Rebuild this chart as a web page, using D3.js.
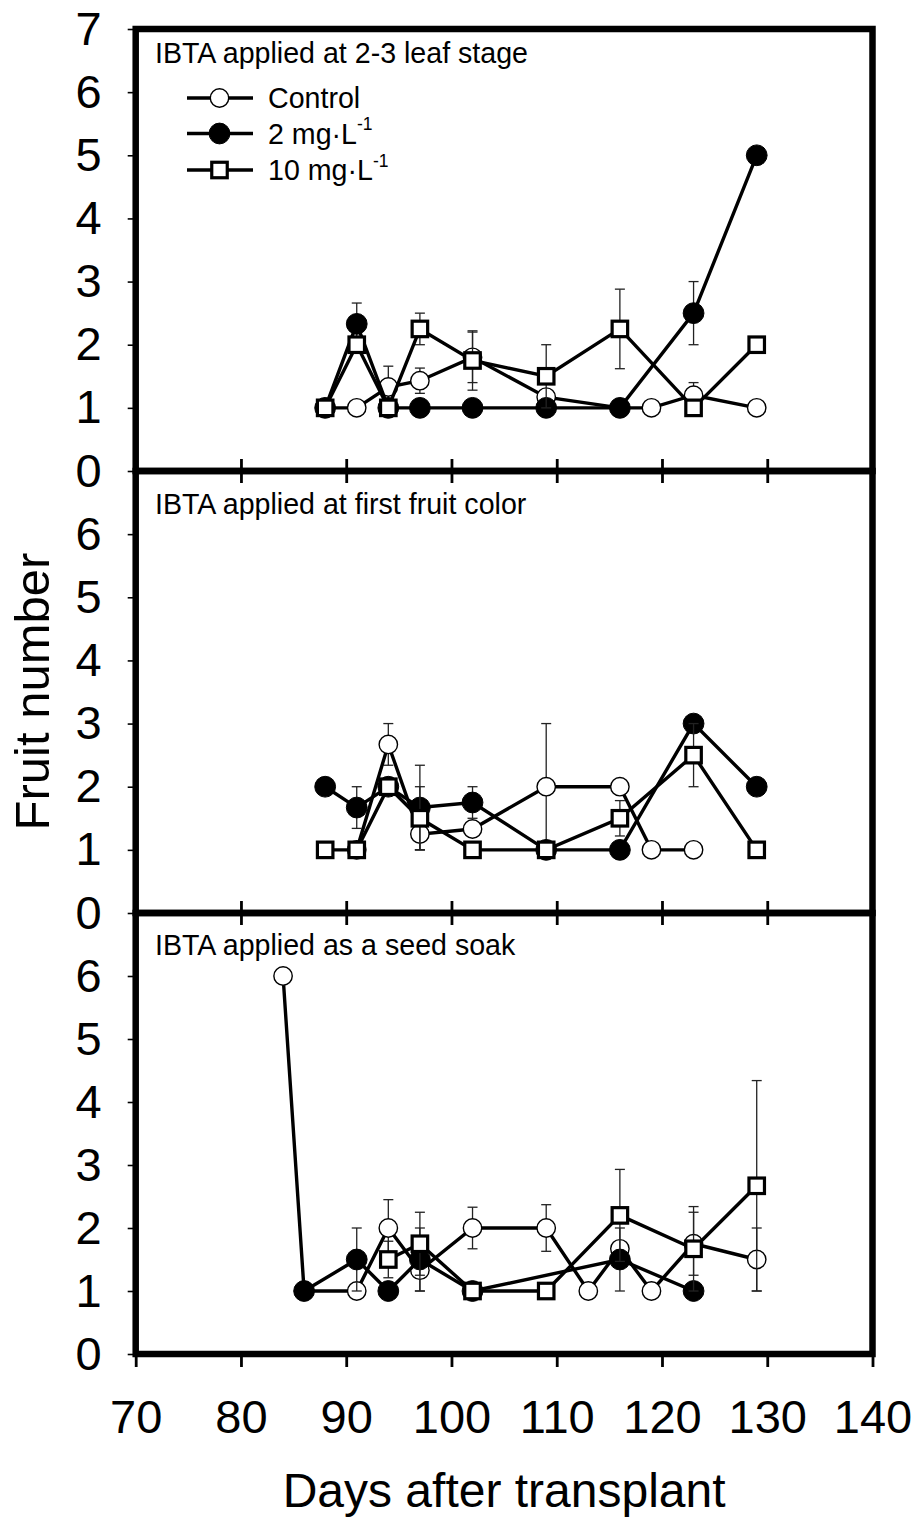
<!DOCTYPE html>
<html><head><meta charset="utf-8">
<script src="https://cdn.jsdelivr.net/npm/d3@7"></script>
<style>
html,body{margin:0;padding:0;background:#fff;}
svg{display:block;font-family:"Liberation Sans",Arial,sans-serif;}
</style></head>
<body>
<svg id="chart" width="917" height="1518"></svg>
<script>
// ---------- data ----------
const xTicks = [70, 80, 90, 100, 110, 120, 130, 140];
const yTicksTop = [0, 1, 2, 3, 4, 5, 6, 7];
const yTicksLower = [0, 1, 2, 3, 4, 5, 6];
const panelTitles = ["IBTA applied at 2-3 leaf stage", "IBTA applied at first fruit color", "IBTA applied as a seed soak"];
const legendLabels = ["Control", "2 mg\u00B7L", "10 mg\u00B7L"];
const legendSup = ["", "-1", "-1"];
const xLabel = "Days after transplant";
const yLabel = "Fruit number";

// Panel 1: 2-3 leaf stage
const p1ControlDays = [88, 91, 94, 97, 102, 109, 116, 119, 123, 129];
const p1ControlVals = [1, 1, 1.33, 1.43, 1.8, 1.17, 1, 1, 1.2, 1];
const p1ControlErr  = [0, 0, 0.33, 0.2, 0.4, 0, 0, 0, 0.2, 0];
const p1LowDays = [88, 91, 94, 97, 102, 109, 116, 123, 129];
const p1LowVals = [1, 2.33, 1, 1, 1, 1, 1, 2.5, 5];
const p1LowErr  = [0, 0.33, 0, 0, 0, 0, 0, 0.5, 0];
const p1HighDays = [88, 91, 94, 97, 102, 109, 116, 123, 129];
const p1HighVals = [1, 2, 1, 2.25, 1.75, 1.5, 2.25, 1, 2];
const p1HighErr  = [0, 0, 0, 0.25, 0.47, 0.5, 0.63, 0, 0];

// Panel 2: first fruit color
const p2ControlDays = [91, 94, 97, 102, 109, 116, 119, 123];
const p2ControlVals = [1, 2.67, 1.25, 1.33, 2, 2, 1, 1];
const p2ControlErr  = [0, 0.33, 0.25, 0, 1, 0, 0, 0];
const p2LowDays = [88, 91, 94, 97, 102, 109, 116, 123, 129];
const p2LowVals = [2, 1.67, 2, 1.67, 1.75, 1, 1, 3, 2];
const p2LowErr  = [0, 0.33, 0, 0.67, 0.25, 0, 0, 0, 0];
const p2HighDays = [88, 91, 94, 97, 102, 109, 116, 123, 129];
const p2HighVals = [1, 1, 2, 1.5, 1, 1, 1.5, 2.5, 1];
const p2HighErr  = [0, 0, 0, 0.5, 0, 0, 0.28, 0.5, 0];

// Panel 3: seed soak
const p3ControlDays = [84, 86, 91, 94, 97, 102, 109, 113, 116, 119, 123, 129];
const p3ControlVals = [6, 1, 1, 2, 1.33, 2, 2, 1, 1.67, 1, 1.75, 1.5];
const p3ControlErr  = [0, 0, 0, 0.45, 0.33, 0.33, 0.37, 0, 0, 0, 0.5, 0.5];
const p3LowDays = [86, 91, 94, 97, 102, 116, 123];
const p3LowVals = [1, 1.5, 1, 1.5, 1, 1.5, 1];
const p3LowErr  = [0, 0.5, 0, 0.5, 0, 0.5, 0];
const p3HighDays = [94, 97, 102, 109, 116, 123, 129];
const p3HighVals = [1.5, 1.75, 1, 1, 2.2, 1.67, 2.67];
const p3HighErr  = [0.29, 0.5, 0, 0, 0.73, 0.67, 1.67];

// ---------- build ----------
const zip = (d, v, e) => d.map((x, i) => ({x, y: v[i], e: e[i]}));
const panels = [
  {title: panelTitles[0], ticks: yTicksTop, titleY: 63,
   series: [zip(p1ControlDays, p1ControlVals, p1ControlErr), zip(p1LowDays, p1LowVals, p1LowErr), zip(p1HighDays, p1HighVals, p1HighErr)]},
  {title: panelTitles[1], ticks: yTicksLower, titleY: 514,
   series: [zip(p2ControlDays, p2ControlVals, p2ControlErr), zip(p2LowDays, p2LowVals, p2LowErr), zip(p2HighDays, p2HighVals, p2HighErr)]},
  {title: panelTitles[2], ticks: yTicksLower, titleY: 955,
   series: [zip(p3ControlDays, p3ControlVals, p3ControlErr), zip(p3LowDays, p3LowVals, p3LowErr), zip(p3HighDays, p3HighVals, p3HighErr)]}
];

const svg = d3.select("#chart");
const left = 135.7, right = 872.5;
const tops = [29, 471, 913], bottoms = [471, 913, 1354];
const x = d3.scaleLinear().domain([70, 140]).range([left, right]);

const styles = [
  {type: "circle", fill: "#fff", r: 9.2, sw: 1.4},
  {type: "circle", fill: "#000", r: 10.4, sw: 1},
  {type: "square", fill: "#fff", s: 15.5, sw: 3.2}
];

function drawMarker(g, st, cx, cy) {
  if (st.type === "circle") {
    g.append("circle").attr("cx", cx).attr("cy", cy).attr("r", st.r)
      .attr("fill", st.fill).attr("stroke", "#000").attr("stroke-width", st.sw);
  } else {
    g.append("rect").attr("x", cx - st.s / 2).attr("y", cy - st.s / 2)
      .attr("width", st.s).attr("height", st.s)
      .attr("fill", st.fill).attr("stroke", "#000").attr("stroke-width", st.sw);
  }
}

panels.forEach((p, pi) => {
  const y = d3.scaleLinear().domain([0, 7]).range([bottoms[pi], tops[pi]]);
  const g = svg.append("g");

  // y axis
  const ya = g.append("g").attr("transform", `translate(${left},0)`)
    .call(d3.axisLeft(y).tickValues(p.ticks).tickSize(8).tickPadding(26).tickFormat(d3.format("d")));
  ya.select(".domain").remove();
  ya.selectAll("line").attr("stroke", "#000").attr("stroke-width", 1.6);
  ya.selectAll("text").attr("font-size", 47).attr("fill", "#000")
    .attr("font-family", "'Liberation Sans', Arial, sans-serif");

  // x axis
  const last = pi === panels.length - 1;
  const xa = g.append("g").attr("transform", `translate(0,${bottoms[pi]})`)
    .call(d3.axisBottom(x).tickValues(xTicks).tickSize(13).tickPadding(33)
      .tickFormat(last ? d3.format("d") : () => ""));
  xa.select(".domain").remove();
  xa.selectAll("line").attr("stroke", "#000").attr("stroke-width", 2.8);
  if (!last) xa.selectAll("line").attr("y1", -12).attr("y2", 12);
  xa.selectAll("text").attr("font-size", 47).attr("fill", "#000")
    .attr("font-family", "'Liberation Sans', Arial, sans-serif");

  // frame
  g.append("rect").attr("x", left).attr("y", tops[pi])
    .attr("width", right - left).attr("height", bottoms[pi] - tops[pi])
    .attr("fill", "none").attr("stroke", "#000").attr("stroke-width", 6.5);

  // title
  g.append("text").attr("x", 155).attr("y", p.titleY).attr("font-size", 28.6)
    .attr("fill", "#000").text(p.title);

  const line = d3.line().x(d => x(d.x)).y(d => y(d.y));
  p.series.forEach((s, si) => {
    const st = styles[si];
    const sg = g.append("g");
    // error bars
    s.filter(d => d.e > 0).forEach(d => {
      const cx = x(d.x), y1 = y(d.y + d.e), y2 = y(d.y - d.e);
      sg.append("line").attr("x1", cx).attr("x2", cx).attr("y1", y1).attr("y2", y2)
        .attr("stroke", "#222").attr("stroke-width", 1.3);
      [y1, y2].forEach(yy => sg.append("line").attr("x1", cx - 5).attr("x2", cx + 5)
        .attr("y1", yy).attr("y2", yy).attr("stroke", "#222").attr("stroke-width", 1.3));
    });
    sg.append("path").attr("d", line(s)).attr("fill", "none")
      .attr("stroke", "#000").attr("stroke-width", 3.4);
    s.forEach(d => drawMarker(sg, st, x(d.x), y(d.y)));
  });

  // legend (top panel only)
  if (pi === 0) {
    const rows = [98, 133.5, 170];
    legendLabels.forEach((lab, li) => {
      const lg = g.append("g");
      lg.append("line").attr("x1", 187).attr("x2", 253).attr("y1", rows[li]).attr("y2", rows[li])
        .attr("stroke", "#000").attr("stroke-width", 3.4);
      drawMarker(lg, styles[li], 219.5, rows[li]);
      const t = lg.append("text").attr("x", 268).attr("y", rows[li] + 10)
        .attr("font-size", 28.6).attr("fill", "#000");
      t.append("tspan").text(lab);
      if (legendSup[li]) t.append("tspan").attr("font-size", 17.5).attr("dy", -13.5).text(legendSup[li]);
    });
  }
});

// axis titles
svg.append("text").attr("x", (left + right) / 2).attr("y", 1507)
  .attr("text-anchor", "middle").attr("font-size", 48).attr("fill", "#000").text(xLabel);
svg.append("text").attr("transform", `translate(49,${(tops[0] + bottoms[2]) / 2}) rotate(-90)`)
  .attr("text-anchor", "middle").attr("font-size", 49).attr("fill", "#000").text(yLabel);
</script>
</body></html>
